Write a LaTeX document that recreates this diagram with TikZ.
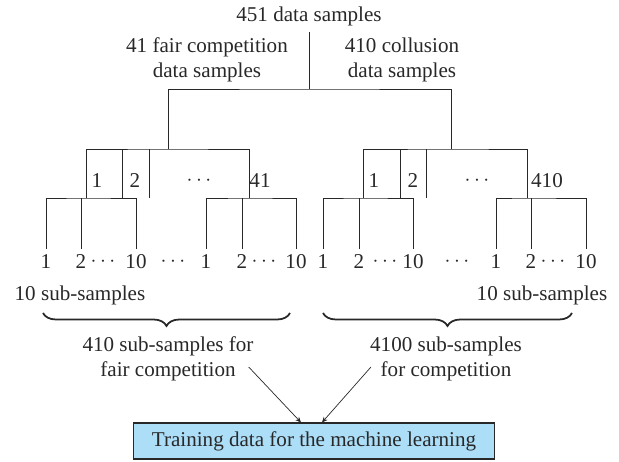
\documentclass[tikz,border=0pt]{standalone}
\usepackage{fontspec}
\setmainfont{Liberation Serif}
\usepackage{tikz}
\usetikzlibrary{arrows.meta,positioning,decorations.pathreplacing,calc}
\usepackage{xcolor}
\definecolor{trainblue}{RGB}{172,222,248}
\definecolor{inkgray}{RGB}{40,40,40}

\begin{document}
\begin{tikzpicture}[x=0.02cm,y=-0.02cm,
    every node/.style={font=\fontsize{12}{14.2}\selectfont,text=inkgray},
    tree/.style={line width=0.5pt,inkgray},
    bracestyle/.style={decorate,decoration={brace,amplitude=0.26cm},line width=1pt,inkgray},
    arr/.style={-{Stealth[length=3.2pt,width=2.8pt]},line width=0.4pt,inkgray}]
  \useasboundingbox (0,0) rectangle (619,462);
  % top split
  \node (top) at (309,16) {451 data samples};
  \node[align=center] (fairtop) at (207,59.5) {41 fair competition\\data samples};
  \node[align=center] (colltop) at (402,59.5) {410 collusion\\data samples};
  \coordinate (root) at (309,89);
  \coordinate (fairg) at (168,149);
  \coordinate (collg) at (451,149);
  \draw[tree] (top) -- (root);
  \draw[tree] (fairg) |- (root) -| (collg);

  % fair competition group
  \coordinate (f1) at (86,198);
  \coordinate (f2) at (122,198);
  \coordinate (f3) at (149,198);
  \coordinate (f41) at (249,198);
  \draw[tree] (f1) |- (fairg) -| (f41);
  \draw[tree] (f2) -- (f2 |- fairg);
  \draw[tree] (f3) -- (f3 |- fairg);
  \node (fl1) at (97,181) {1};
  \node (fl2) at (135,181) {2};
  \node (fldots) at (199,181) {$\cdots$};
  \node (fl41) at (260,181) {41};

  \node (fa1) at (46,262) {1};
  \node (fa2) at (81,262) {2};
  \node (fad) at (103,262) {$\cdots$};
  \node (fa10) at (136,262) {10};
  \node (fdots) at (173,262) {$\cdots$};
  \node (fb1) at (206,262) {1};
  \node (fb2) at (242,262) {2};
  \node (fbd) at (264,262) {$\cdots$};
  \node (fb10) at (296,262) {10};
  \draw[tree] (fa1) |- (f1) -| (fa10);
  \draw[tree] (fa2) -- (fa2 |- f1);
  \draw[tree] (fb1) |- (f41) -| (fb10);
  \draw[tree] (fb2) -- (fb2 |- f41);

  % collusion group
  \coordinate (c1) at (363,198);
  \coordinate (c2) at (400,198);
  \coordinate (c3) at (426,198);
  \coordinate (c410) at (527,198);
  \draw[tree] (c1) |- (collg) -| (c410);
  \draw[tree] (c2) -- (c2 |- collg);
  \draw[tree] (c3) -- (c3 |- collg);
  \node (cl1) at (374,181) {1};
  \node (cl2) at (413,181) {2};
  \node (cldots) at (477,181) {$\cdots$};
  \node (cl410) at (547,181) {410};

  \node (ca1) at (323,262) {1};
  \node (ca2) at (359,262) {2};
  \node (cad) at (385,262) {$\cdots$};
  \node (ca10) at (413,262) {10};
  \node (cdots) at (457,262) {$\cdots$};
  \node (cb1) at (496,262) {1};
  \node (cb2) at (531,262) {2};
  \node (cbd) at (553,262) {$\cdots$};
  \node (cb10) at (586,262) {10};
  \draw[tree] (ca1) |- (c1) -| (ca10);
  \draw[tree] (ca2) -- (ca2 |- c1);
  \draw[tree] (cb1) |- (c410) -| (cb10);
  \draw[tree] (cb2) -- (cb2 |- c410);

  \node (fsub) at (80,295) {10 sub-samples};
  \node (csub) at (542,295) {10 sub-samples};

  % braces and training box
  \coordinate (fbl) at (43,313);
  \coordinate (fbr) at (290,313);
  \coordinate (cbl) at (323,313);
  \coordinate (cbr) at (572,313);
  \draw[bracestyle] (fbr) -- (fbl);
  \draw[bracestyle] (cbr) -- (cbl);
  \node[align=center] (ftxt) at (168,358.5) {410 sub-samples for\\fair competition};
  \node[align=center] (ctxt) at (446,358.5) {4100 sub-samples\\for competition};
  \node[draw=inkgray,fill=trainblue,line width=0.6pt,inner sep=0pt,
        minimum width=7.24cm,minimum height=0.72cm]
    (train) at (314,441) {Training data for the machine learning};
  \draw[arr] ($(ftxt.east)+(-11,8.5)$) -- ($(train.north)+(-13,0)$);
  \draw[arr] ($(ctxt.west)+(7,8.5)$) -- ($(train.north)+(8,0)$);
\end{tikzpicture}
\end{document}
